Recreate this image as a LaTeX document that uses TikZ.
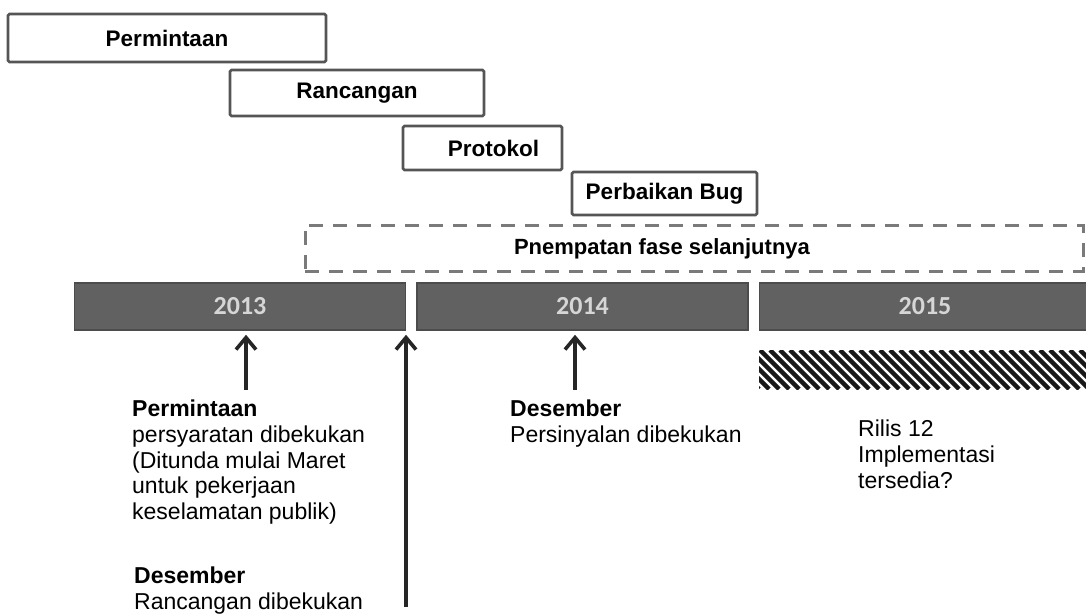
\documentclass[tikz,border=0pt]{standalone}
\usepackage{fontspec}
\setmainfont{Liberation Sans}
\newfontfamily\yearfont{Carlito}
\usetikzlibrary{arrows.meta}
\definecolor{boxline}{HTML}{555555}
\definecolor{barfill}{HTML}{616161}
\definecolor{barline}{HTML}{4C4C4C}
\definecolor{yeartext}{HTML}{D6D6D6}
\definecolor{dashline}{HTML}{7A7A7A}
\begin{document}
\begin{tikzpicture}[x=1pt,y=-1pt,
  phase/.style={draw=boxline, line width=2.6pt, rounded corners=1.5pt, fill=white,
    inner sep=0pt, font=\fontsize{22.5}{26}\selectfont\bfseries},
  nextphase/.style={draw=dashline, line width=3pt, dash pattern=on 14pt off 10pt,
    inner sep=0pt},
  yearbar/.style={draw=barline, line width=1.5pt, fill=barfill, inner sep=0pt,
    minimum width=331pt, minimum height=47pt, text=yeartext,
    font=\yearfont\fontsize{26}{30}\selectfont\bfseries},
  note/.style={anchor=north west, inner sep=0pt, align=left,
    font=\fontsize{23}{25.6}\selectfont},
  arr/.style={line width=3.6pt, draw=black!85,
    -{Straight Barb[length=12pt,width=20pt,line width=3.6pt]}}
]
\useasboundingbox (0,0) rectangle (1086,615);

% phases of the work programme
\node[phase, minimum width=318pt, minimum height=48pt] (req)  at (167,38)    {Permintaan};
\node[phase, minimum width=254pt, minimum height=46pt] (des)  at (357,93)    {Rancangan};
\node[phase, minimum width=159pt, minimum height=44pt] (prot) at (482.5,148) {\hspace*{22pt}Protokol};
\node[phase, minimum width=185pt, minimum height=43pt] (bug)  at (664.5,193.5) {Perbaikan Bug};
\node[nextphase, minimum width=778pt, minimum height=46pt] (next) at (694,248) {};
\node[inner sep=0pt, font=\fontsize{22}{26}\selectfont\bfseries] (nextlbl) at (662,249)
  {Pnempatan fase selanjutnya};

% calendar years
\node[yearbar] (y13) at (240,306.5)   {2013};
\node[yearbar] (y14) at (582.5,306.5) {2014};
\node[yearbar] (y15) at (925,306.5)   {2015};

% release window
\begin{scope}
  \clip (759,350) rectangle (1086,389);
  \foreach \i in {0,...,40} {
    \draw[line width=4.4pt, black!90] ({720+10*\i},350) -- ({759+10*\i},389);
  }
\end{scope}
\coordinate (hatch) at (923,370);

% freeze milestones
\coordinate (a1) at (246,390);
\coordinate (a2) at (406,607);
\coordinate (a3) at (575,390);
\draw[arr, shorten >=4pt] (a1) -- (a1 |- y13.south);
\draw[arr, shorten >=4pt] (a2) -- (a2 |- y13.south);
\draw[arr, shorten >=4pt] (a3) -- (a3 |- y14.south);

\node[note] (n1) at (132,400) {\textbf{Permintaan}\\persyaratan dibekukan\\(Ditunda mulai Maret\\untuk pekerjaan\\keselamatan publik)};
\node[note] (n2) at (134,567) {\textbf{Desember}\\Rancangan dibekukan};
\node[note] (n3) at (510,400) {\textbf{Desember}\\Persinyalan dibekukan};
\node[note] (n4) at (858,420) {Rilis 12\\Implementasi\\tersedia?};
\end{tikzpicture}
\end{document}
